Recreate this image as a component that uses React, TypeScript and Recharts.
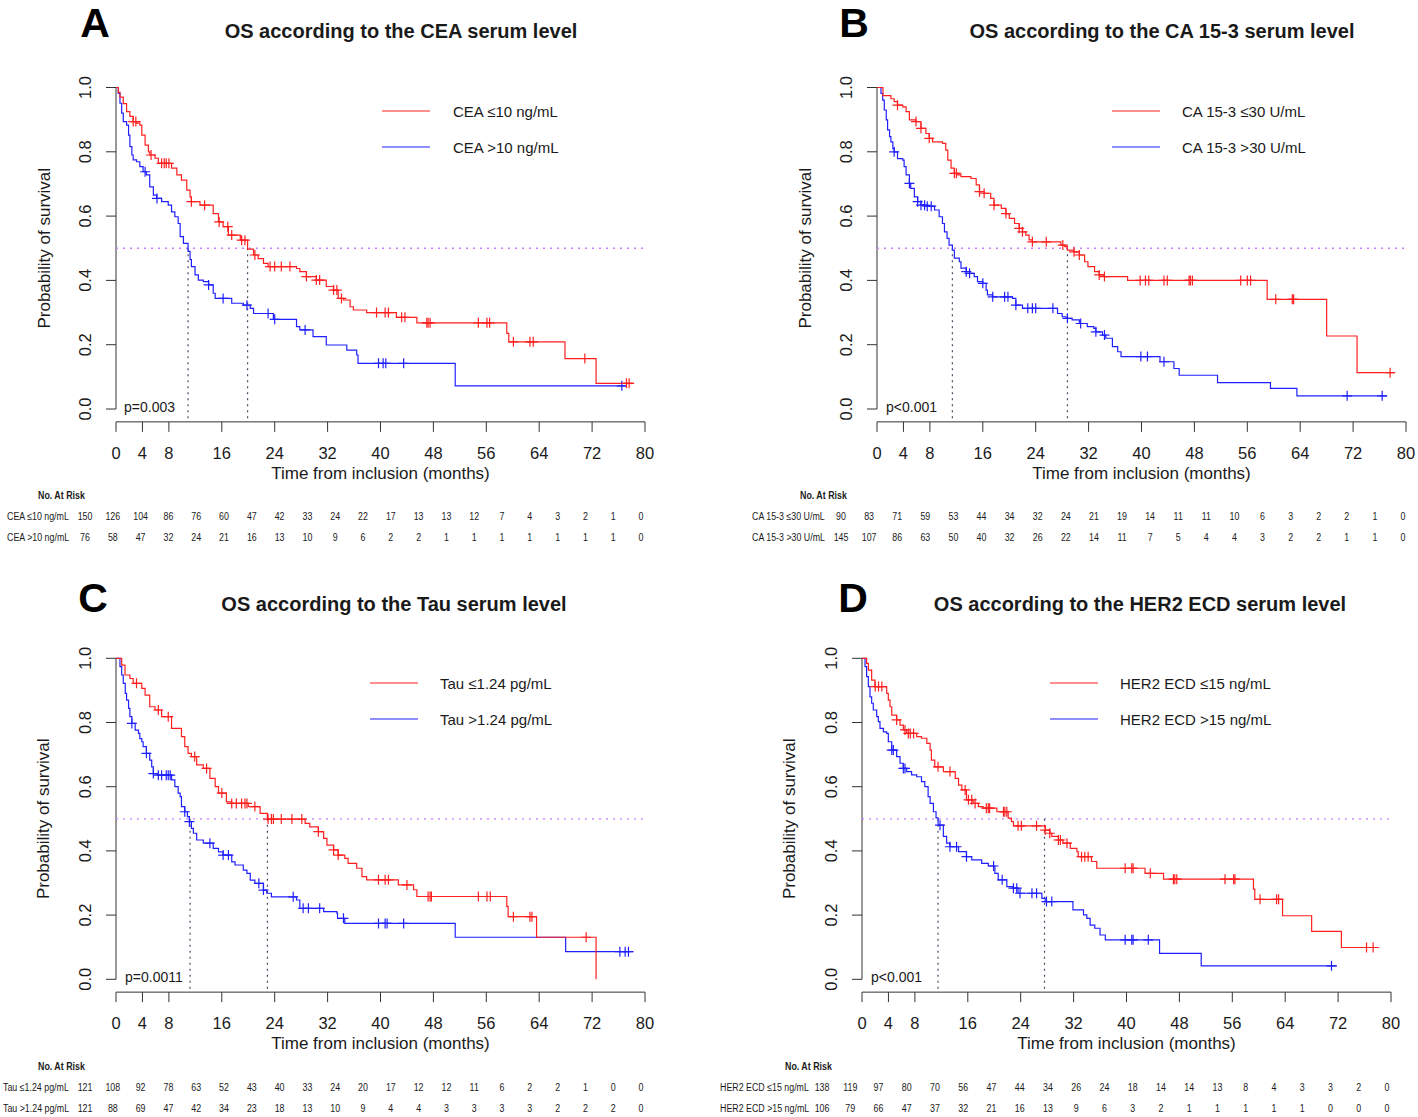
import React from "react";
import { ComposedChart, Line, Scatter, XAxis, YAxis, ReferenceLine } from "recharts";

const FONT = "'Liberation Sans', Arial, Helvetica, sans-serif";
const RED = "#ff1f1f";
const BLUE = "#2020ff";
const INK = "#1a1a1a";

const xTicks = [0, 4, 8, 16, 24, 32, 40, 48, 56, 64, 72, 80];
const yTicks = [0, 0.2, 0.4, 0.6, 0.8, 1.0];

// ---- A: CEA ----
const ceaLowSteps = [[0,1],[0.35,0.985],[0.6,0.97],[1.1,0.95],[1.6,0.925],[2.1,0.91],[2.6,0.894],[3.1,0.889],[3.6,0.883],[3.9,0.852],[4.4,0.821],[4.9,0.8],[5.1,0.79],[5.9,0.78],[6.4,0.764],[8.4,0.749],[9.2,0.728],[9.9,0.712],[10.7,0.681],[11.2,0.66],[11.4,0.645],[12.7,0.634],[14.7,0.608],[15.5,0.582],[16.2,0.567],[17.0,0.541],[18.8,0.525],[19.9,0.497],[20.8,0.479],[21.5,0.468],[22.3,0.453],[23.0,0.443],[27.3,0.437],[27.8,0.427],[28.8,0.412],[30.3,0.401],[31.8,0.381],[32.9,0.37],[33.6,0.344],[34.4,0.339],[35.4,0.318],[35.9,0.308],[37.9,0.3],[42.4,0.285],[45.5,0.268],[59.1,0.235],[59.4,0.209],[67.9,0.157],[72.6,0.08],[78.3,0.08]];
const ceaLowCens = [2.6,3.0,5.3,6.9,7.3,7.6,8.0,11.4,13.4,15.6,16.9,17.5,19.0,19.5,21.0,23.3,24.0,25.0,26.3,28.8,30.3,30.8,32.9,33.4,34.1,39.4,40.7,41.2,43.2,43.7,47.0,47.2,47.5,54.8,56.1,56.5,60.1,62.6,63.1,70.9,77.2,77.6];
const ceaHighSteps = [[0,1],[0.35,0.982],[0.6,0.951],[0.86,0.92],[1.1,0.894],[1.6,0.883],[1.9,0.852],[2.1,0.816],[2.4,0.79],[2.6,0.775],[3.1,0.769],[3.6,0.754],[4.1,0.738],[4.6,0.728],[5.1,0.691],[5.65,0.665],[6.15,0.655],[6.9,0.645],[7.9,0.634],[8.4,0.613],[8.9,0.598],[9.4,0.577],[9.7,0.536],[10.2,0.515],[10.9,0.49],[11.2,0.465],[11.4,0.443],[11.95,0.417],[12.45,0.401],[13.2,0.396],[14.0,0.386],[14.7,0.36],[15.0,0.344],[17.5,0.329],[19.25,0.323],[20.3,0.313],[20.8,0.297],[23.8,0.279],[27.3,0.256],[27.8,0.246],[29.8,0.225],[31.8,0.199],[34.9,0.183],[36.4,0.168],[36.6,0.142],[51.3,0.072],[77.2,0.072]];
const ceaHighCens = [4.4,6.2,14.0,16.2,19.8,23.0,24.0,28.6,39.7,40.4,40.8,43.5,76.5];
const ceaLowRisk = [150,126,104,86,76,60,47,42,33,24,22,17,13,13,12,7,4,3,2,1,0];
const ceaHighRisk = [76,58,47,32,24,21,16,13,10,9,6,2,2,1,1,1,1,1,1,1,0];

// ---- B: CA 15-3 ----
const caLowSteps = [[0,1],[0.9,0.975],[2.1,0.965],[2.6,0.956],[3.1,0.945],[3.9,0.94],[4.4,0.925],[4.9,0.899],[5.9,0.894],[6.65,0.873],[7.4,0.857],[7.9,0.842],[8.4,0.831],[9.9,0.826],[10.4,0.805],[10.7,0.774],[11.2,0.749],[11.7,0.733],[12.2,0.728],[12.7,0.723],[14.2,0.717],[15.0,0.697],[15.5,0.676],[16.2,0.671],[17.2,0.655],[17.7,0.634],[18.8,0.624],[19.5,0.608],[20.0,0.593],[20.8,0.577],[21.5,0.562],[22.0,0.551],[22.5,0.541],[23.0,0.526],[23.5,0.52],[27.8,0.51],[28.4,0.505],[28.8,0.494],[29.8,0.489],[30.6,0.479],[31.4,0.458],[31.9,0.443],[32.9,0.427],[33.6,0.417],[34.4,0.412],[37.9,0.4],[59.0,0.341],[68.0,0.227],[72.6,0.113],[78.3,0.113]];
const caLowCens = [3.1,5.9,6.65,7.9,11.7,12.0,15.5,16.2,17.7,19.5,21.5,22.0,23.5,25.6,28.1,29.8,30.6,33.6,34.4,39.8,40.6,41.1,43.4,43.9,47.2,47.4,47.7,55.0,56.0,56.5,60.3,62.8,63.0,77.6];
const caHighSteps = [[0,1],[0.6,0.982],[0.86,0.961],[1.1,0.93],[1.4,0.899],[1.6,0.868],[1.9,0.847],[2.1,0.831],[2.4,0.81],[2.6,0.8],[3.1,0.779],[3.9,0.774],[4.1,0.754],[4.4,0.728],[4.9,0.702],[5.1,0.686],[5.65,0.66],[6.15,0.645],[6.65,0.634],[7.6,0.631],[8.7,0.619],[9.4,0.598],[9.9,0.577],[10.2,0.551],[10.6,0.531],[10.9,0.51],[11.4,0.494],[11.7,0.469],[12.45,0.458],[12.7,0.438],[13.5,0.427],[14.0,0.422],[14.7,0.412],[15.2,0.396],[16.0,0.391],[16.5,0.37],[16.7,0.355],[17.5,0.349],[20.5,0.344],[21.0,0.323],[22.0,0.313],[27.3,0.297],[28.0,0.287],[28.6,0.282],[29.5,0.277],[30.6,0.266],[31.8,0.256],[32.8,0.251],[33.1,0.24],[34.1,0.23],[34.6,0.22],[35.6,0.194],[36.4,0.178],[36.9,0.163],[42.8,0.147],[44.9,0.126],[45.7,0.105],[51.5,0.082],[59.5,0.064],[63.5,0.041],[77.1,0.041]];
const caHighCens = [2.6,4.9,6.15,6.65,7.2,7.6,8.2,13.5,14.0,16.0,17.5,19.3,19.8,21.0,22.8,23.5,24.0,26.6,28.8,30.8,33.1,34.4,39.9,40.9,43.4,71.1,76.4];
const caLowRisk = [90,83,71,59,53,44,34,32,24,21,19,14,11,11,10,6,3,2,2,1,0];
const caHighRisk = [145,107,86,63,50,40,32,26,22,14,11,7,5,4,4,3,2,2,1,1,0];

// ---- C: Tau ----
const tauLowSteps = [[0,1],[0.86,0.979],[1.36,0.948],[2.1,0.937],[2.6,0.922],[3.9,0.906],[4.4,0.885],[5.1,0.849],[5.9,0.839],[6.9,0.818],[8.4,0.782],[9.9,0.756],[10.4,0.725],[10.9,0.704],[11.4,0.694],[12.2,0.668],[13.2,0.657],[14.2,0.626],[15.0,0.6],[15.5,0.58],[16.7,0.553],[17.5,0.548],[20.0,0.538],[21.8,0.517],[22.9,0.499],[28.6,0.486],[29.3,0.475],[30.6,0.46],[31.4,0.439],[31.9,0.418],[32.9,0.403],[33.6,0.387],[34.6,0.377],[35.1,0.361],[36.4,0.346],[37.2,0.32],[37.9,0.31],[42.7,0.294],[45.0,0.279],[45.5,0.258],[59.1,0.227],[59.3,0.195],[63.6,0.131],[72.6,0.0]];
const tauLowCens = [3.1,6.4,7.9,11.9,13.7,16.0,17.5,18.2,19.0,19.5,19.8,21.0,23.0,23.5,23.8,25.0,26.6,28.1,30.6,32.9,33.6,39.7,40.7,41.2,44.0,47.2,47.5,47.7,54.8,56.1,56.6,60.1,62.6,62.9,71.1];
const tauHighSteps = [[0,1],[0.6,0.974],[0.86,0.948],[1.1,0.922],[1.4,0.891],[1.6,0.87],[1.9,0.844],[2.1,0.818],[2.4,0.797],[2.9,0.776],[3.4,0.766],[3.6,0.75],[3.9,0.74],[4.1,0.725],[4.6,0.704],[5.1,0.683],[5.4,0.662],[5.65,0.641],[6.4,0.636],[8.4,0.621],[8.9,0.6],[9.4,0.58],[9.7,0.569],[9.9,0.538],[10.4,0.522],[10.8,0.507],[11.1,0.491],[11.4,0.47],[11.7,0.455],[12.2,0.434],[13.2,0.424],[14.7,0.408],[15.5,0.397],[16.2,0.387],[17.5,0.366],[18.0,0.356],[19.25,0.34],[19.8,0.33],[20.3,0.309],[21.0,0.299],[22.3,0.278],[22.8,0.268],[23.5,0.257],[27.3,0.247],[27.8,0.221],[31.4,0.211],[33.4,0.206],[33.5,0.19],[34.6,0.174],[51.3,0.131],[68.0,0.086],[78.2,0.086]];
const tauHighCens = [2.4,4.6,5.65,6.4,6.9,7.6,7.9,8.2,10.4,11.1,14.2,16.2,17.0,21.6,22.3,26.8,28.3,29.1,30.8,34.4,39.7,40.7,41.0,43.5,76.2,77.0,77.5];
const tauLowRisk = [121,108,92,78,63,52,43,40,33,24,20,17,12,12,11,6,2,2,1,0,0];
const tauHighRisk = [121,88,69,47,42,34,23,18,13,10,9,4,4,3,3,3,3,2,2,2,0];

// ---- D: HER2 ECD ----
const herLowSteps = [[0,1],[0.7,0.984],[0.96,0.963],[1.46,0.932],[1.96,0.912],[3.73,0.891],[3.98,0.87],[4.24,0.849],[4.5,0.823],[5.24,0.808],[5.75,0.792],[6.25,0.777],[6.76,0.766],[8.27,0.756],[9.0,0.751],[9.8,0.735],[10.3,0.714],[10.5,0.683],[11.0,0.662],[12.3,0.647],[14.1,0.626],[14.6,0.605],[15.1,0.59],[15.8,0.559],[16.8,0.548],[17.6,0.538],[18.3,0.533],[20.4,0.522],[22.1,0.502],[22.6,0.491],[22.9,0.478],[27.7,0.465],[28.4,0.455],[28.7,0.445],[29.7,0.434],[30.4,0.424],[31.5,0.408],[32.5,0.398],[32.7,0.382],[34.7,0.367],[35.5,0.346],[42.8,0.33],[45.6,0.312],[59.2,0.281],[59.4,0.249],[63.6,0.198],[68.0,0.149],[72.5,0.099],[78.2,0.099]];
const herLowCens = [2.0,2.5,3.0,5.24,6.5,7.0,7.3,7.8,11.5,13.3,15.6,16.1,16.6,17.1,18.8,19.1,19.3,21.4,21.6,21.9,23.6,24.1,26.4,27.7,28.4,29.7,30.0,31.0,33.2,33.7,34.2,39.8,40.8,41.0,43.6,47.1,47.3,47.6,54.9,56.2,56.4,60.2,62.7,63.0,76.3,77.3];
const herHighSteps = [[0,1],[0.46,0.974],[0.7,0.943],[0.96,0.912],[1.21,0.88],[1.46,0.86],[1.71,0.839],[2.22,0.818],[2.47,0.803],[2.72,0.782],[3.23,0.771],[3.73,0.766],[3.98,0.74],[4.5,0.714],[5.24,0.694],[5.75,0.673],[6.25,0.657],[6.76,0.647],[7.5,0.637],[8.27,0.631],[9.0,0.616],[9.5,0.6],[10.0,0.569],[10.3,0.548],[10.8,0.522],[11.2,0.503],[11.5,0.48],[12.3,0.445],[12.8,0.424],[13.3,0.413],[14.6,0.398],[15.8,0.382],[16.6,0.372],[18.1,0.361],[19.1,0.353],[20.1,0.33],[20.6,0.31],[21.9,0.289],[22.9,0.284],[23.6,0.268],[27.2,0.252],[27.7,0.242],[31.9,0.216],[33.5,0.201],[34.0,0.19],[34.5,0.169],[35.2,0.159],[36.0,0.138],[36.8,0.123],[45.0,0.081],[51.3,0.042],[71.8,0.042]];
const herHighCens = [4.5,4.74,6.25,6.5,11.8,13.3,14.3,15.8,19.9,21.2,22.9,23.4,23.9,25.7,26.4,27.9,28.7,39.8,40.8,41.0,43.3,71.0];
const herLowRisk = [138,119,97,80,70,56,47,44,34,26,24,18,14,14,13,8,4,3,3,2,0];
const herHighRisk = [106,79,66,47,37,32,21,16,13,9,6,3,2,1,1,1,1,1,0,0,0];

const panels = [
  {
    letter: "A", title: "OS according to the CEA serum level", p: "p=0.003",
    labels: ["CEA \u226410 ng/mL", "CEA >10 ng/mL"],
    low: ceaLowSteps, lowCens: ceaLowCens, high: ceaHighSteps, highCens: ceaHighCens,
    risk: [ceaLowRisk, ceaHighRisk], medians: [10.9, 19.9],
    box: { left: 0, top: 0, width: 709, height: 558 },
    x0: 116, x80: 645, yTop: 87.5, yBot: 409,
    letterX: 95, letterY: 37, titleX: 401, titleY: 31,
    legLine: 382, legText: 453, legY: 111, pX: 124,
    tabLabel: 7, tabHead: 38, colA: 85, colB: 641, tabY: 495,
  },
  {
    letter: "B", title: "OS according to the CA 15-3 serum level", p: "p<0.001",
    labels: ["CA 15-3 \u226430 U/mL", "CA 15-3 >30 U/mL"],
    low: caLowSteps, lowCens: caLowCens, high: caHighSteps, highCens: caHighCens,
    risk: [caLowRisk, caHighRisk], medians: [11.4, 28.8],
    box: { left: 709, top: 0, width: 709, height: 558 },
    x0: 877, x80: 1406, yTop: 87.5, yBot: 409,
    letterX: 854, letterY: 37, titleX: 1162, titleY: 31,
    legLine: 1112, legText: 1182, legY: 111, pX: 886,
    tabLabel: 752, tabHead: 800, colA: 841, colB: 1403, tabY: 495,
  },
  {
    letter: "C", title: "OS according to the Tau serum level", p: "p=0.0011",
    labels: ["Tau \u22641.24 pg/mL", "Tau >1.24 pg/mL"],
    low: tauLowSteps, lowCens: tauLowCens, high: tauHighSteps, highCens: tauHighCens,
    risk: [tauLowRisk, tauHighRisk], medians: [11.2, 22.9],
    box: { left: 0, top: 558, width: 709, height: 559 },
    x0: 116, x80: 645, yTop: 658.3, yBot: 979.3,
    letterX: 93, letterY: 612, titleX: 394, titleY: 604,
    legLine: 370, legText: 440, legY: 683, pX: 125,
    tabLabel: 3, tabHead: 38, colA: 85, colB: 641, tabY: 1066,
  },
  {
    letter: "D", title: "OS according to the HER2 ECD serum level", p: "p<0.001",
    labels: ["HER2 ECD \u226415 ng/mL", "HER2 ECD >15 ng/mL"],
    low: herLowSteps, lowCens: herLowCens, high: herHighSteps, highCens: herHighCens,
    risk: [herLowRisk, herHighRisk], medians: [11.5, 27.6],
    box: { left: 709, top: 558, width: 709, height: 559 },
    x0: 862, x80: 1391, yTop: 658.3, yBot: 979.3,
    letterX: 853, letterY: 612, titleX: 1140, titleY: 604,
    legLine: 1050, legText: 1120, legY: 683, pX: 871,
    tabLabel: 720, tabHead: 785, colA: 822, colB: 1387, tabY: 1066,
  },
];

const toPoints = (steps) => steps.map(([t, s]) => ({ t, s }));

function survAt(steps, t) {
  let s = 1;
  for (const [tt, ss] of steps) {
    if (tt <= t) s = ss;
    else break;
  }
  return s;
}
const censPoints = (steps, times) => times.map((t) => ({ t, s: survAt(steps, t) }));

const crossShape = (color) => (props) => {
  const { cx, cy } = props;
  if (cx == null || cy == null) return null;
  return (
    <g stroke={color} strokeWidth={1.2}>
      <line x1={cx - 5} x2={cx + 5} y1={cy} y2={cy} />
      <line x1={cx} x2={cx} y1={cy - 5} y2={cy + 5} />
    </g>
  );
};

const XTick = ({ x, y, payload }) => (
  <text x={x} y={y + 21} textAnchor="middle" dominantBaseline="central" fontSize={16.5} fill={INK} fontFamily={FONT}>
    {payload.value}
  </text>
);

const YTick = ({ x, y, payload }) => (
  <text x={x - 21} y={y} transform={`rotate(-90 ${x - 21} ${y})`} textAnchor="middle" dominantBaseline="central" fontSize={16.5} fill={INK} fontFamily={FONT}>
    {Number(payload.value).toFixed(1)}
  </text>
);

function Panel({ cfg }) {
  const { box, x0, x80, yTop, yBot } = cfg;
  const pad = 0.04 * (yBot - yTop);
  const plotTop = yTop - pad - box.top;
  const plotBot = yBot + pad - box.top;
  const yAxisW = 50;
  const xAxisH = 40;
  const margin = {
    top: plotTop,
    left: x0 - box.left - yAxisW,
    right: box.left + box.width - x80,
    bottom: box.height - plotBot - xAxisH,
  };
  return (
    <div style={{ position: "absolute", left: box.left, top: box.top }}>
      <ComposedChart width={box.width} height={box.height} margin={margin}>
        <XAxis
          type="number" dataKey="t" domain={[0, 80]} ticks={xTicks} allowDataOverflow
          height={xAxisH} tickSize={10} tickMargin={0} tick={XTick} interval={0}
          axisLine={{ stroke: "#333" }} tickLine={{ stroke: "#333" }}
        />
        <YAxis
          type="number" dataKey="s" domain={[-0.04, 1.04]} ticks={yTicks} allowDataOverflow
          width={yAxisW} tickSize={10} tickMargin={0} tick={YTick} interval={0}
          axisLine={false} tickLine={{ stroke: "#333" }}
        />
        <ReferenceLine segment={[{ x: 0, y: 0 }, { x: 0, y: 1 }]} stroke="#333" ifOverflow="visible" />
        <ReferenceLine y={0.5} stroke="#c77dff" strokeDasharray="2 5" strokeWidth={1.3} />
        {cfg.medians.map((m) => (
          <ReferenceLine key={m} segment={[{ x: m, y: 0.5 }, { x: m, y: -0.04 }]} stroke="#4a4a66" strokeDasharray="2 4" strokeWidth={1.2} ifOverflow="visible" />
        ))}
        <Line data={toPoints(cfg.high)} dataKey="s" type="stepAfter" stroke={BLUE} strokeWidth={1.2} dot={false} isAnimationActive={false} />
        <Line data={toPoints(cfg.low)} dataKey="s" type="stepAfter" stroke={RED} strokeWidth={1.2} dot={false} isAnimationActive={false} />
        <Scatter data={censPoints(cfg.high, cfg.highCens)} dataKey="s" shape={crossShape(BLUE)} isAnimationActive={false} />
        <Scatter data={censPoints(cfg.low, cfg.lowCens)} dataKey="s" shape={crossShape(RED)} isAnimationActive={false} />
      </ComposedChart>
    </div>
  );
}

function NarrowText({ x, y, children, bold = false, anchor = "start" }) {
  return (
    <text
      transform={`translate(${x} ${y}) scale(0.82 1)`}
      textAnchor={anchor} dominantBaseline="central"
      fontSize={10.8} fontWeight={bold ? 700 : 400} fill={INK} fontFamily={FONT}
    >
      {children}
    </text>
  );
}

function Annotations({ cfg }) {
  const yMid = (cfg.yTop + cfg.yBot) / 2;
  const xMid = (cfg.x0 + cfg.x80) / 2;
  const n = cfg.risk[0].length;
  const colX = (i) => cfg.colA + ((cfg.colB - cfg.colA) * i) / (n - 1);
  return (
    <g fontFamily={FONT} fill={INK}>
      <text x={cfg.letterX} y={cfg.letterY} textAnchor="middle" fontSize={41} fontWeight={700} fill="#000">
        {cfg.letter}
      </text>
      <text x={cfg.titleX} y={cfg.titleY} textAnchor="middle" dominantBaseline="central" fontSize={20} fontWeight={700}>
        {cfg.title}
      </text>
      <text x={cfg.x0 - 72} y={yMid} transform={`rotate(-90 ${cfg.x0 - 72} ${yMid})`} textAnchor="middle" dominantBaseline="central" fontSize={17}>
        Probability of survival
      </text>
      <text x={xMid} y={cfg.yBot + 64} textAnchor="middle" dominantBaseline="central" fontSize={17}>
        Time from inclusion (months)
      </text>
      <text x={cfg.pX} y={cfg.yBot - 2} dominantBaseline="central" fontSize={14}>
        {cfg.p}
      </text>
      {[RED, BLUE].map((c, i) => (
        <g key={c}>
          <line x1={cfg.legLine} x2={cfg.legLine + 48} y1={cfg.legY + i * 36} y2={cfg.legY + i * 36} stroke={c} strokeWidth={1.2} />
          <text x={cfg.legText} y={cfg.legY + i * 36} dominantBaseline="central" fontSize={15}>
            {cfg.labels[i]}
          </text>
        </g>
      ))}
      <NarrowText x={cfg.tabHead} y={cfg.tabY} bold>No. At Risk</NarrowText>
      {cfg.risk.map((row, r) => (
        <g key={r}>
          <NarrowText x={cfg.tabLabel} y={cfg.tabY + 21 * (r + 1)}>{cfg.labels[r]}</NarrowText>
          {row.map((v, i) => (
            <NarrowText key={i} x={colX(i)} y={cfg.tabY + 21 * (r + 1)} anchor="middle">{v}</NarrowText>
          ))}
        </g>
      ))}
    </g>
  );
}

export default function App() {
  return (
    <div style={{ position: "absolute", left: 0, top: 0, width: 1418, height: 1117, background: "#fff", overflow: "hidden" }}>
      {panels.map((p) => (
        <Panel key={p.letter} cfg={p} />
      ))}
      <svg width={1418} height={1117} style={{ position: "absolute", left: 0, top: 0, pointerEvents: "none" }}>
        {panels.map((p) => (
          <Annotations key={p.letter} cfg={p} />
        ))}
      </svg>
    </div>
  );
}
